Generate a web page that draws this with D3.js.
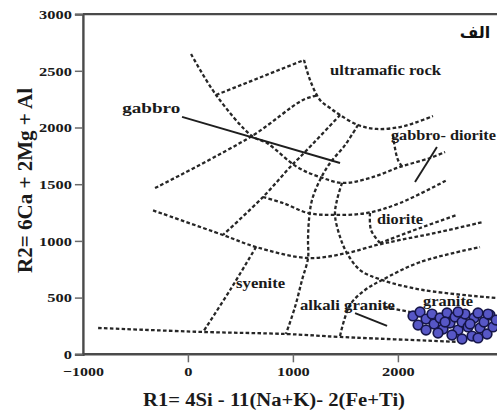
<!DOCTYPE html>
<html><head><meta charset="utf-8">
<script src="https://cdn.jsdelivr.net/npm/d3@7"></script>
<style>html,body{margin:0;padding:0;background:#fff;overflow:hidden}</style>
</head><body><svg id="c" width="497" height="417"></svg>
<script>
// ---- data (R1, R2) ----
const xTicks = [-1000, 0, 1000, 2000];
const yTicks = [0, 500, 1000, 1500, 2000, 2500, 3000];
const lineA = [[30,2648],[268,2287],[610,1925],[753,1863],[1039,1652],[1258,1563],[1477,1511],[1734,1555],[2020,1652],[2306,1731],[2449,1784]];
const lineS1 = [[268,2287],[1106,2595]];
const lineC1 = [[1106,2595],[1163,2419],[1258,2243],[1354,2172],[1449,2110],[1620,2022],[1801,1987],[2020,2004],[2182,2048],[2334,2101]];
const lineB = [[-313,1466],[610,1925],[1096,2243],[1240,2285]];
const lineD = [[1449,2110],[1087,1757],[991,1669],[715,1387],[334,1052]];
const lineF = [[1620,2022],[1496,1845],[1354,1687],[1258,1537],[1182,1361],[1153,1185],[1144,1008],[1144,849],[1087,655],[1020,417],[934,179]];
const lineH = [[1468,1511],[1420,1361],[1401,1229],[1449,1035],[1515,893],[1639,743],[1849,655],[2239,567],[2944,496]];
const lineI = [[715,1387],[906,1334],[1144,1246],[1382,1229],[1706,1246],[2020,1334],[2468,1537]];
const lineGD = [[1953,1934],[1972,1819],[2001,1713],[2049,1643]];
const lineDi = [[1734,1246],[1744,1096],[1829,981]];
const lineDi2 = [[1829,981],[2211,1114],[2563,1229]];
const lineG = [[-332,1269],[334,1052],[649,946],[1144,849],[1515,893],[1801,964],[2020,1008],[2401,1079],[2811,1167]];
const lineSy = [[649,946],[402,567],[144,196]];
const lineBot = [[-855,232],[144,197],[934,179],[1449,153],[2592,109]];
const lineK = [[1449,162],[1544,435],[1687,567],[1849,655],[2211,813],[2782,946]];
const lineL = [[1877,417],[2163,364]];
const solidGabbro = [[-56,2093],[1449,1687]];
const solidGD = [[2163,1519],[2372,1828]];
const solidAG = [[1592,364],[1897,250]];
const samples = [[2144,338],[2211,373],[2192,258],[2268,311],[2325,355],[2344,267],[2401,320],[2430,223],[2468,364],[2496,276],[2544,329],[2573,214],[2611,285],[2639,355],[2668,241],[2706,161],[2725,320],[2763,364],[2782,232],[2820,285],[2849,179],[2877,347],[2906,241],[2935,302],[2268,214],[2382,188],[2515,170],[2611,135],[2763,144],[2858,355],[2449,285],[2687,267],[2573,373]];
const labels = [
  {t:"gabbro", x:-625, y:2125, w:58},
  {t:"ultramafic rock", x:1354, y:2465, w:111},
  {t:"gabbro- diorite", x:1934, y:1890, w:105},
  {t:"diorite", x:1801, y:1150, w:46},
  {t:"syenite", x:459, y:585, w:49},
  {t:"alkali granite", x:1068, y:390, w:95},
  {t:"granite", x:2240, y:425, w:50}
];
const xTitle = "R1= 4Si - 11(Na+K)- 2(Fe+Ti)";
const yTitle = "R2= 6Ca + 2Mg + Al";
const cornerLabel = "الف";

// ---- drawing ----
const svg = d3.select("#c");
svg.append("rect").attr("width",497).attr("height",417).attr("fill","#fff");
const x = d3.scaleLinear().domain([-1000, 2000]).range([82.9, 397.9]);
const y = d3.scaleLinear().domain([0, 3000]).range([354.3, 14.1]);
const serif = "'Liberation Serif','Times New Roman',serif";
const ink = "#1a1a1a";

const line = d3.line().x(d=>x(d[0])).y(d=>y(d[1])).curve(d3.curveLinear);
const smooth = d3.line().x(d=>x(d[0])).y(d=>y(d[1])).curve(d3.curveCatmullRom.alpha(0.5));

const dashed = [lineA, lineS1, lineC1, lineB, lineD, lineF, lineH, lineI, lineGD, lineDi, lineDi2, lineG, lineSy, lineBot, lineK, lineL];
svg.append("g").selectAll("path").data(dashed).join("path")
  .attr("d", d => smooth(d))
  .attr("fill","none").attr("stroke","#262626").attr("stroke-width",2.3)
  .attr("stroke-dasharray","3.6,2.3");

svg.append("g").selectAll("path").data([solidGabbro, solidGD, solidAG]).join("path")
  .attr("d", d => line(d))
  .attr("fill","none").attr("stroke","#1e1e1e").attr("stroke-width",1.9);

// frame top
svg.append("line").attr("x1",x(-1000)).attr("x2",497).attr("y1",y(3000)).attr("y2",y(3000))
  .attr("stroke","#4a4a4a").attr("stroke-width",2.4);

// axes
const gy = svg.append("g").attr("transform",`translate(${x(-1000)},0)`)
  .call(d3.axisLeft(y).tickValues(yTicks).tickSize(8).tickPadding(3).tickFormat(d3.format("d")));
const gx = svg.append("g").attr("transform",`translate(0,${y(0)})`)
  .call(d3.axisBottom(x).tickValues(xTicks).tickSize(8).tickPadding(4).tickFormat(d3.format("d")));
gx.select(".domain").attr("d", `M${x(-1000)},0H497`);
[gx, gy].forEach(g => {
  g.select(".domain").attr("stroke","#4a4a4a").attr("stroke-width",2.4);
  g.selectAll(".tick line").attr("stroke","#6a6a6a").attr("stroke-width",1.5);
  g.selectAll(".tick text").attr("font-family",serif).attr("font-weight","bold")
    .attr("font-size",13.5).attr("fill",ink)
    .attr("textLength", d => (String(d).length) * 8.2).attr("lengthAdjust","spacingAndGlyphs");
});
gx.selectAll(".tick").filter(d => d===-1000).select("line").attr("opacity",0);
gy.selectAll(".tick text").attr("x",-11);

// labels
svg.append("g").selectAll("text").data(labels).join("text")
  .attr("x", d => x(d.x)).attr("y", d => y(d.y))
  .attr("font-family", serif).attr("font-weight","bold").attr("font-size",14)
  .attr("fill", ink).attr("textLength", d => d.w).attr("lengthAdjust","spacingAndGlyphs")
  .text(d => d.t);

svg.append("text").attr("x",475).attr("y",38).attr("text-anchor","middle")
  .attr("font-family","'DejaVu Sans','Noto Sans',sans-serif").attr("font-weight","bold")
  .attr("font-size",16).attr("fill","#111").text(cornerLabel);

// axis titles
svg.append("text").attr("x",143).attr("y",406)
  .attr("font-family",serif).attr("font-weight","bold").attr("font-size",18).attr("fill",ink)
  .attr("textLength",262).attr("lengthAdjust","spacingAndGlyphs").text(xTitle);
svg.append("text").attr("transform","translate(32,273) rotate(-90)")
  .attr("font-family",serif).attr("font-weight","bold").attr("font-size",20).attr("fill",ink)
  .attr("textLength",185).attr("lengthAdjust","spacingAndGlyphs").text(yTitle);

// samples
svg.append("g").selectAll("circle").data(samples).join("circle")
  .attr("cx", d => x(d[0])).attr("cy", d => y(d[1])).attr("r",4.8)
  .attr("fill","#5757c6").attr("stroke","#16164a").attr("stroke-width",1.7);
</script></body></html>
